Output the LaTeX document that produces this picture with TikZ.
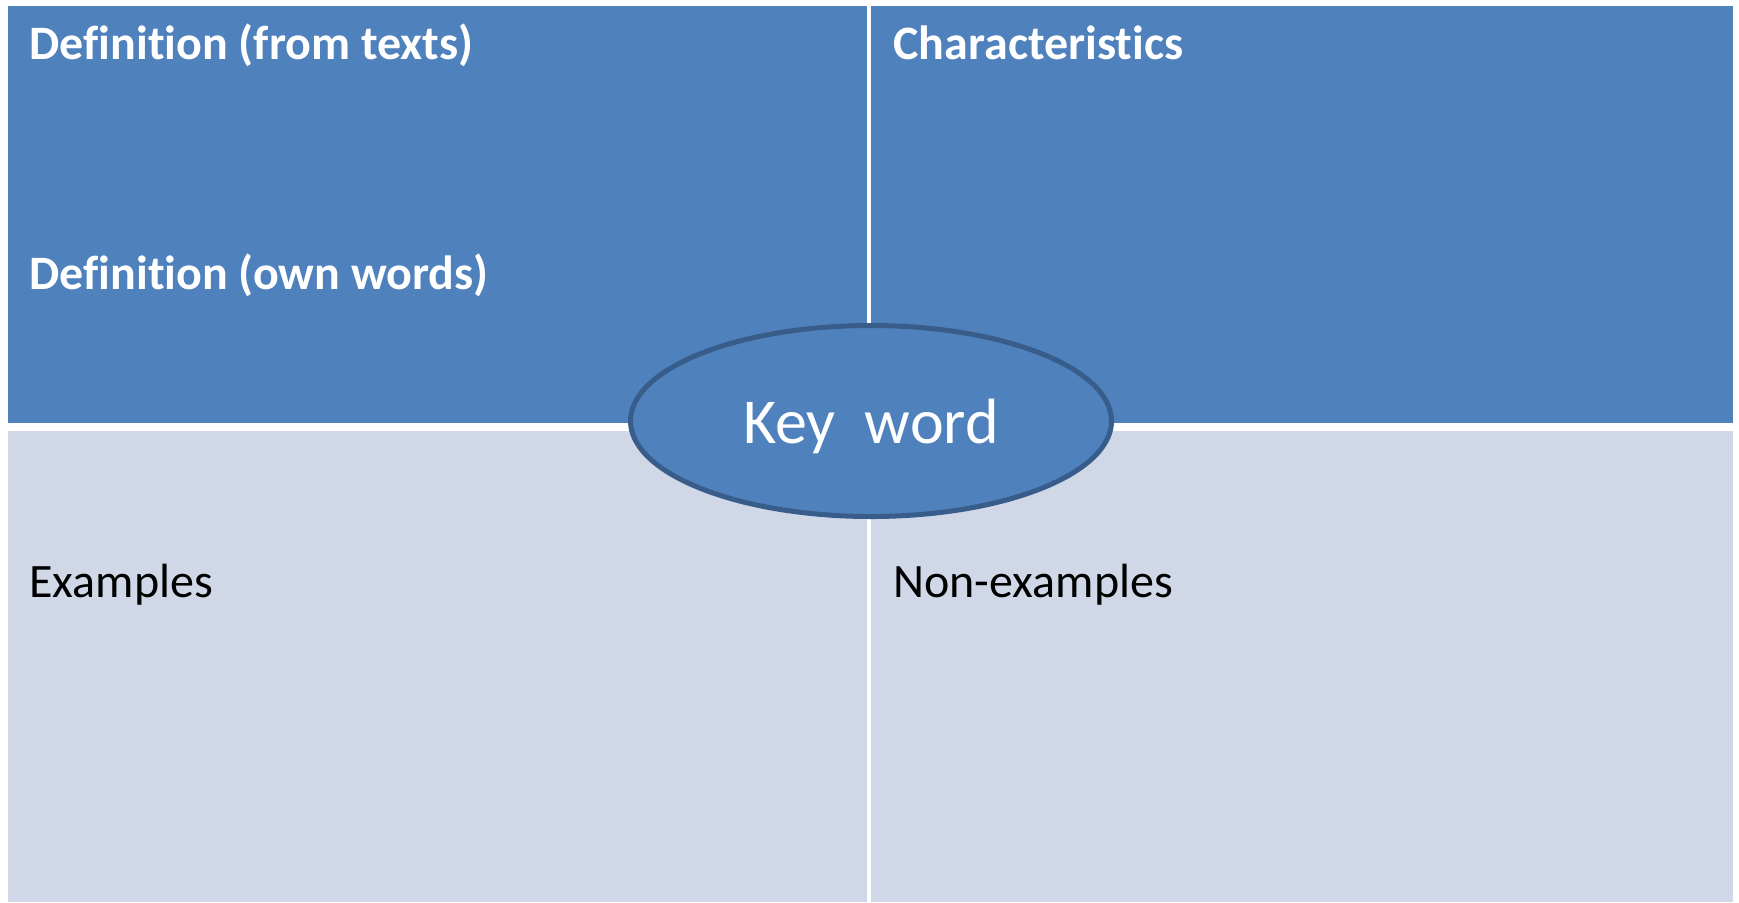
\documentclass[tikz,border=0pt]{standalone}
\usepackage{fontspec}
\setmainfont{Carlito}[Ligatures={NoCommon}]
\usetikzlibrary{shapes.geometric}
\definecolor{topblue}{HTML}{4F81BD}
\definecolor{lowgrey}{HTML}{D0D8E8}
\definecolor{rimblue}{HTML}{385D8A}

\begin{document}
\begin{tikzpicture}[x=0.5pt, y=-0.5pt,
                    upper/.style={fill=topblue},
                    lower/.style={fill=lowgrey},
                    head/.style={anchor=base west, inner sep=0, text=white, font=\fontsize{24}{28}\selectfont\bfseries},
                    plain/.style={anchor=base west, inner sep=0, text=black, font=\fontsize{24}{28}\selectfont},
                    keyoval/.style={ellipse, fill=topblue, draw=rimblue, line width=2.5pt, minimum width=240.5pt,
                                    minimum height=95.5pt, inner sep=0, text=white, text depth=0pt,
                                    font=\fontsize{32}{38}\selectfont}]

\fill[white] (0,0) rectangle (1739,902);
\useasboundingbox (0,0) rectangle (1739,902);

% the four quarters
\fill[upper] (8,6) rectangle (867,423);
\fill[upper] (871,6) rectangle (1733,423);
\fill[lower] (8,431) rectangle (867,902);
\fill[lower] (871,431) rectangle (1733,902);

\node[head] (deftext) at (29,59) {Definition (from texts)};
\node[head] (defown) at (29,289) {Definition (own words)};
\node[head] (charac) at (893,59) {Characteristics};
\node[plain] (examples) at (29,597) {Examples};
\node[plain] (nonexamples) at (893,597) {Non-examples};

\node[keyoval] (key) at (871,421) {Key\ \ word};
\end{tikzpicture}
\end{document}
